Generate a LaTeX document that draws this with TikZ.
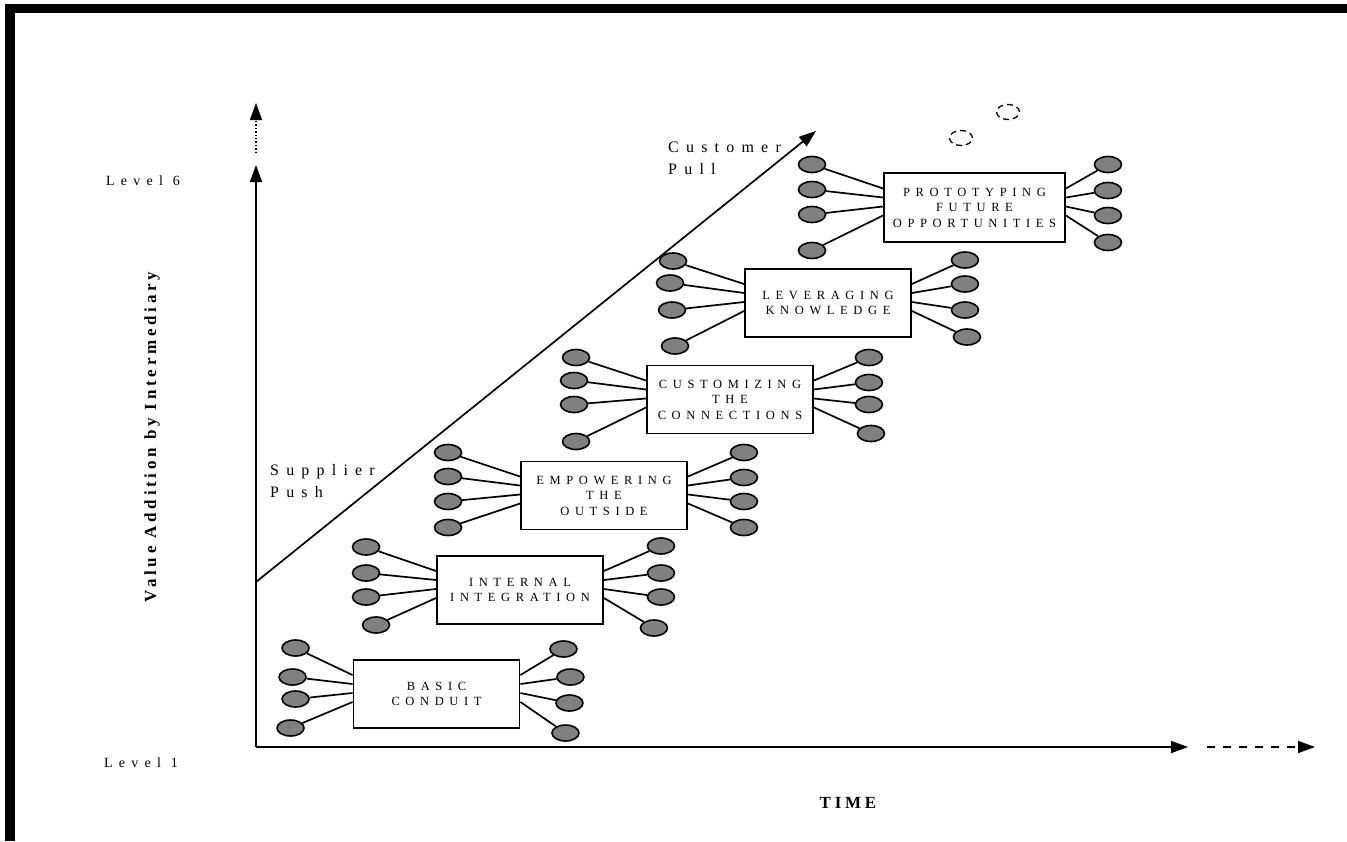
\documentclass[tikz,border=0pt]{standalone}
\usepackage{fontspec}
\setmainfont{Liberation Serif}
\newfontfamily\spacedserif[LetterSpace=45]{Liberation Serif}
\newfontfamily\boldspaced[LetterSpace=22]{Liberation Serif}
\usetikzlibrary{shapes.geometric,arrows.meta}

\tikzset{
  stagebox/.style={rectangle,draw,line width=1.9pt,minimum width=166pt,minimum height=68pt,
    inner sep=0pt,align=center,font={\spacedserif\fontsize{12.5}{15.5}\selectfont}},
  blob/.style={ellipse,draw,line width=1.6pt,fill=black!50,minimum width=27pt,minimum height=16pt,inner sep=0pt},
  ghost/.style={ellipse,draw,dash pattern=on 6pt off 4pt,line width=1.3pt,minimum width=23pt,minimum height=15pt,inner sep=0pt},
  spoke/.style={line width=1.7pt},
  axis/.style={line width=1.8pt,-{Triangle[length=17pt,width=12pt]}},
  sidelabel/.style={align=left,inner sep=0pt,font={\spacedserif\fontsize{16}{22}\selectfont}},
  levellabel/.style={inner sep=0pt,font={\spacedserif\fontsize{14}{16}\selectfont}},
  axislabel/.style={inner sep=0pt,font={\boldspaced\bfseries\fontsize{17}{20}\selectfont}}
}

\begin{document}
\begin{tikzpicture}[x=1pt,y=-1pt]
    \useasboundingbox (0,0) rectangle (1347,841);
    % frame (top and left edges only)
    \fill (5,4) rectangle (15,841);
    \fill (5,4) rectangle (1347,13);

    % Axes
    \coordinate (origin) at (256,747);
    \coordinate (ytip) at (256,165);
    \coordinate (ydots) at (256,153);
    \coordinate (ydotstip) at (256,103);
    \coordinate (xtip) at (1188,747);
    \coordinate (xdash) at (1207,747);
    \coordinate (xdashtip) at (1315,747);
    \coordinate (pushstart) at (256,582);
    \coordinate (pulltip) at (816,131);

    \draw[axis] (origin) -- (ytip);
    \draw[axis] (origin) -- (xtip);
    \draw[axis,line width=1.4pt,dotted] (ydots) -- (ydotstip);
    \draw[axis,line width=1.4pt,dash pattern=on 8pt off 8pt] (xdash) -- (xdashtip);
    \draw[axis,line width=1.7pt] (pushstart) -- (pulltip);

    \node[levellabel] (level6) at (143,181) {Level 6};
    \node[levellabel] (level1) at (141,763) {Level 1};
    \node[axislabel,rotate=90] (valuelabel) at (152,437) {Value Addition by Intermediary};
    \node[axislabel] (timelabel) at (848,803) {TIME};
    \node[sidelabel,anchor=west] (push) at (270,481) {Supplier\\Push};
    \node[sidelabel,anchor=west] (pull) at (668,158) {Customer\\Pull};

    % Stages
    \node[stagebox] (conduit) at (436.5,694) {BASIC\\CONDUIT};
    \node[stagebox] (integration) at (520,590) {INTERNAL\\INTEGRATION};
    \node[stagebox] (empowering) at (604,495.5) {EMPOWERING\\THE\\OUTSIDE};
    \node[stagebox] (customizing) at (730,399.5) {CUSTOMIZING\\THE\\CONNECTIONS};
    \node[stagebox] (leveraging) at (828,303) {LEVERAGING\\KNOWLEDGE};
    \node[stagebox,minimum width=181pt,minimum height=69pt] (prototyping) at (974.5,207.5)
        {PROTOTYPING\\FUTURE\\OPPORTUNITIES};

    % Partners on both sides of each stage
    \foreach \lx/\ly/\rx/\ry/\ey [count=\i] in
        {-57/-46/43/-45/-19, -60/-17/50/-17/-10, -57/5/49/9/-1, -62/34/45/39/8} {
      \node[blob] (conduit_l\i) at ([shift={(\lx,\ly)}]conduit.west) {};
      \node[blob] (conduit_r\i) at ([shift={(\rx,\ry)}]conduit.east) {};
      \draw[spoke] (conduit_l\i) -- ([shift={(0,\ey)}]conduit.west);
      \draw[spoke] (conduit_r\i) -- ([shift={(0,\ey)}]conduit.east);
    }
    \foreach \lx/\ly/\rx/\ry/\ey [count=\i] in
        {-70/-43/57/-44/-19, -70/-17/57/-17/-10, -70/7/57/7/-1, -60/35/50/38/8} {
      \node[blob] (integration_l\i) at ([shift={(\lx,\ly)}]integration.west) {};
      \node[blob] (integration_r\i) at ([shift={(\rx,\ry)}]integration.east) {};
      \draw[spoke] (integration_l\i) -- ([shift={(0,\ey)}]integration.west);
      \draw[spoke] (integration_r\i) -- ([shift={(0,\ey)}]integration.east);
    }
    \foreach \lx/\ly/\rx/\ry/\ey [count=\i] in
        {-72/-43/56/-43/-19, -72/-19/56/-18/-10, -72/6/56/6/-1, -72/32/56/32/8} {
      \node[blob] (empowering_l\i) at ([shift={(\lx,\ly)}]empowering.west) {};
      \node[blob] (empowering_r\i) at ([shift={(\rx,\ry)}]empowering.east) {};
      \draw[spoke] (empowering_l\i) -- ([shift={(0,\ey)}]empowering.west);
      \draw[spoke] (empowering_r\i) -- ([shift={(0,\ey)}]empowering.east);
    }
    \foreach \lx/\ly/\rx/\ry/\ey [count=\i] in
        {-70/-42/55/-42/-19, -72/-19/55/-17/-10, -72/5/55/5/-1, -70/42/57/34/8} {
      \node[blob] (customizing_l\i) at ([shift={(\lx,\ly)}]customizing.west) {};
      \node[blob] (customizing_r\i) at ([shift={(\rx,\ry)}]customizing.east) {};
      \draw[spoke] (customizing_l\i) -- ([shift={(0,\ey)}]customizing.west);
      \draw[spoke] (customizing_r\i) -- ([shift={(0,\ey)}]customizing.east);
    }
    \foreach \lx/\ly/\rx/\ry/\ey [count=\i] in
        {-71/-42/53/-43/-19, -74/-20/53/-19/-10, -72/7/53/7/-1, -69/43/55/34/8} {
      \node[blob] (leveraging_l\i) at ([shift={(\lx,\ly)}]leveraging.west) {};
      \node[blob] (leveraging_r\i) at ([shift={(\rx,\ry)}]leveraging.east) {};
      \draw[spoke] (leveraging_l\i) -- ([shift={(0,\ey)}]leveraging.west);
      \draw[spoke] (leveraging_r\i) -- ([shift={(0,\ey)}]leveraging.east);
    }
    \foreach \lx/\ly/\rx/\ry/\ey [count=\i] in
        {-71/-43/42/-43/-19, -71/-18/42/-17/-10, -71/7/42/8/-1, -71/43/42/35/8} {
      \node[blob] (prototyping_l\i) at ([shift={(\lx,\ly)}]prototyping.west) {};
      \node[blob] (prototyping_r\i) at ([shift={(\rx,\ry)}]prototyping.east) {};
      \draw[spoke] (prototyping_l\i) -- ([shift={(0,\ey)}]prototyping.west);
      \draw[spoke] (prototyping_r\i) -- ([shift={(0,\ey)}]prototyping.east);
    }

    % Stages still to come
    \node[ghost] (future1) at (961,138) {};
    \node[ghost] (future2) at (1008,112) {};
\end{tikzpicture}
\end{document}
